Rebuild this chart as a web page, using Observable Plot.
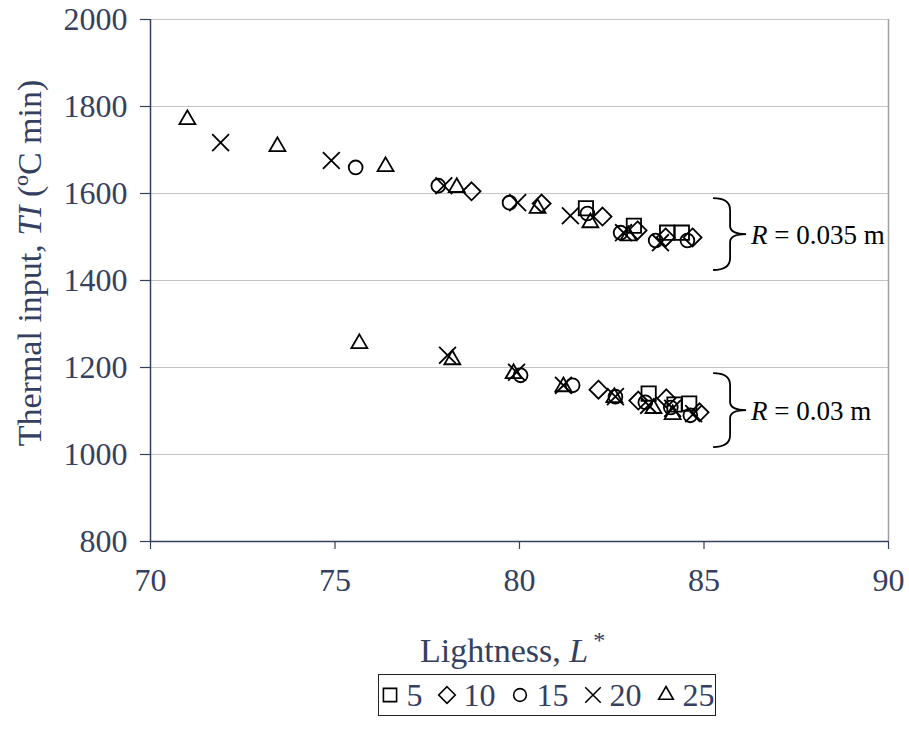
<!DOCTYPE html>
<html>
<head>
<meta charset="utf-8">
<script src="https://cdn.jsdelivr.net/npm/d3@7"></script>
<script src="https://cdn.jsdelivr.net/npm/@observablehq/plot@0.6"></script>
<style>
  body { margin: 0; background: #fff; }
  #wrap { position: relative; width: 909px; height: 744px; font-family: "Liberation Serif", "Times New Roman", serif; }
  #legend { position: absolute; left: 378px; top: 674px; width: 338px; height: 42px; box-sizing: border-box;
            border: 1px solid #222; display: flex; align-items: center; justify-content: center;
            font-size: 32px; color: #34405f; }
  #legend .item { display: flex; align-items: center; margin: 0 7px; }
  #legend svg { margin-right: 7px; }
</style>
</head>
<body>
<div id="wrap"><div id="chart"></div><div id="legend"></div></div>
<script>
// ---- data ----
const seriesNames = ["5", "10", "15", "20", "25"];
const L5  = [81.8, 83.1, 84.0, 84.4, 83.5, 84.2, 84.6];
const TI5 = [1566, 1526, 1510, 1510, 1140, 1115, 1117];
const L10  = [78.7, 80.6, 82.25, 83.2, 83.96, 84.69, 82.14, 83.22, 83.98, 84.88];
const TI10 = [1605, 1577, 1547, 1515, 1499, 1499, 1149, 1124, 1129, 1097];
const L15  = [75.56, 77.8, 79.73, 81.84, 82.74, 83.69, 84.55, 80.03, 81.44, 82.6, 83.41, 84.1, 84.63];
const TI15 = [1660, 1618, 1579, 1554, 1510, 1492, 1492, 1182, 1159, 1133, 1120, 1108, 1090];
const L20  = [71.9, 74.9, 77.95, 79.95, 81.38, 82.82, 83.82, 78.05, 79.92, 81.19, 82.6, 83.5, 84.15, 84.72];
const TI20 = [1717, 1676, 1618, 1579, 1549, 1510, 1487, 1228, 1189, 1159, 1133, 1113, 1106, 1094];
const L25  = [71.0, 73.44, 76.37, 78.3, 80.49, 81.92, 82.95, 75.66, 78.18, 79.84, 81.19, 82.57, 83.63, 84.15];
const TI25 = [1770, 1708, 1662, 1614, 1566, 1533, 1503, 1255, 1218, 1186, 1156, 1131, 1106, 1092];

const xTicks = [70, 75, 80, 85, 90];
const yTicks = [800, 1000, 1200, 1400, 1600, 1800, 2000];

// brace annotations (data coordinates)
const braceLabels = ["0.035 m", "0.03 m"];
const braceTop = [1588, 1186];
const braceBottom = [1423, 1016];
const braceX = 85.26;

// ---- styling ----
const navy = "#34405f";
const symbols = ["square2", "diamond2", "circle", "times", "triangle2"];
const radii = [9.1, 8.1, 6.9, 7.7, 7.6];
const d3Symbols = [d3.symbolSquare2, d3.symbolDiamond2, d3.symbolCircle, d3.symbolTimes, d3.symbolTriangle2];

const Ls = [L5, L10, L15, L20, L25];
const TIs = [TI5, TI10, TI15, TI20, TI25];
const tables = Ls.map((L, k) => L.map((x, i) => ({x, y: TIs[k][i]})));

const braceMark = (index, scales) => {
  const g = d3.create("svg:g");
  braceLabels.forEach((lab, i) => {
    const x0 = scales.x(braceX);
    const y0 = scales.y(braceTop[i]);
    const y1 = scales.y(braceBottom[i]);
    const ym = (y0 + y1) / 2;
    const xm = x0 + 17, xt = x0 + 33;
    const p = d3.path();
    p.moveTo(x0, y0);
    p.quadraticCurveTo(xm, y0, xm, y0 + 12);
    p.lineTo(xm, ym - 8);
    p.quadraticCurveTo(xm, ym, xt, ym);
    p.quadraticCurveTo(xm, ym, xm, ym + 8);
    p.lineTo(xm, y1 - 12);
    p.quadraticCurveTo(xm, y1, x0, y1);
    g.append("path").attr("d", p.toString()).attr("fill", "none").attr("stroke", "#000").attr("stroke-width", 1.8);
    const t = g.append("text").attr("x", xt + 5).attr("y", ym).attr("dy", "0.35em")
      .attr("text-anchor", "start").attr("font-size", 27).attr("fill", "#000");
    t.append("tspan").attr("font-style", "italic").text("R");
    t.append("tspan").text(" = " + lab);
  });
  return g.node();
};

const chart = Plot.plot({
  width: 909, height: 670,
  marginTop: 19, marginBottom: 129, marginLeft: 150, marginRight: 21,
  style: {fontFamily: "Liberation Serif, Times New Roman, serif", fontSize: "32px", color: navy, background: "white", overflow: "visible"},
  x: {domain: [70, 90], label: null},
  y: {domain: [800, 2000], label: null},
  marks: [
    Plot.gridY(yTicks, {stroke: "#c4c4c4", strokeOpacity: 1, strokeWidth: 1.2}),
    Plot.ruleX([90], {stroke: "#a0a0a0", strokeWidth: 1.5}),
    Plot.axisX({ticks: xTicks, tickFormat: d3.format("d"), tickSize: 8, tickPadding: 19, fontSize: 32, strokeWidth: 1.2}),
    Plot.axisY({ticks: yTicks, tickFormat: d3.format("d"), tickSize: 10, tickPadding: 13, fontSize: 32, strokeWidth: 1.2}),
    Plot.ruleX([70], {stroke: navy, strokeWidth: 1.5}),
    Plot.ruleY([800], {stroke: navy, strokeWidth: 1.5}),
    ...tables.map((t, k) => Plot.dot(t, {x: "x", y: "y", symbol: symbols[k], r: radii[k], fill: "none", stroke: "#000", strokeWidth: 1.8})),
    braceMark
  ]
});
document.getElementById("chart").appendChild(chart);

// axis titles
const svg = d3.select(chart);
const yt = svg.append("text").attr("transform", "translate(41,263) rotate(-90)")
  .attr("text-anchor", "middle").attr("font-size", 34).attr("fill", navy);
yt.append("tspan").text("Thermal input, ");
yt.append("tspan").attr("font-style", "italic").text("TI");
yt.append("tspan").text(" (ºC min)");

const xt = svg.append("text").attr("x", 420).attr("y", 662).attr("text-anchor", "start")
  .attr("font-size", 34).attr("fill", navy);
xt.append("tspan").text("Lightness, ");
xt.append("tspan").attr("font-style", "italic").text("L");
xt.append("tspan").attr("dx", 5).attr("dy", -14).attr("font-size", 24).text("*");

// legend
const legend = d3.select("#legend");
seriesNames.forEach((name, k) => {
  const item = legend.append("div").attr("class", "item");
  const s = item.append("svg").attr("width", 20).attr("height", 20).attr("viewBox", "-10 -10 20 20");
  s.append("path").attr("d", d3.symbol(d3Symbols[k], Math.PI * radii[k] * radii[k] * 0.85)())
    .attr("fill", "none").attr("stroke", "#000").attr("stroke-width", 1.6);
  item.append("span").text(name);
});
</script>
</body>
</html>
